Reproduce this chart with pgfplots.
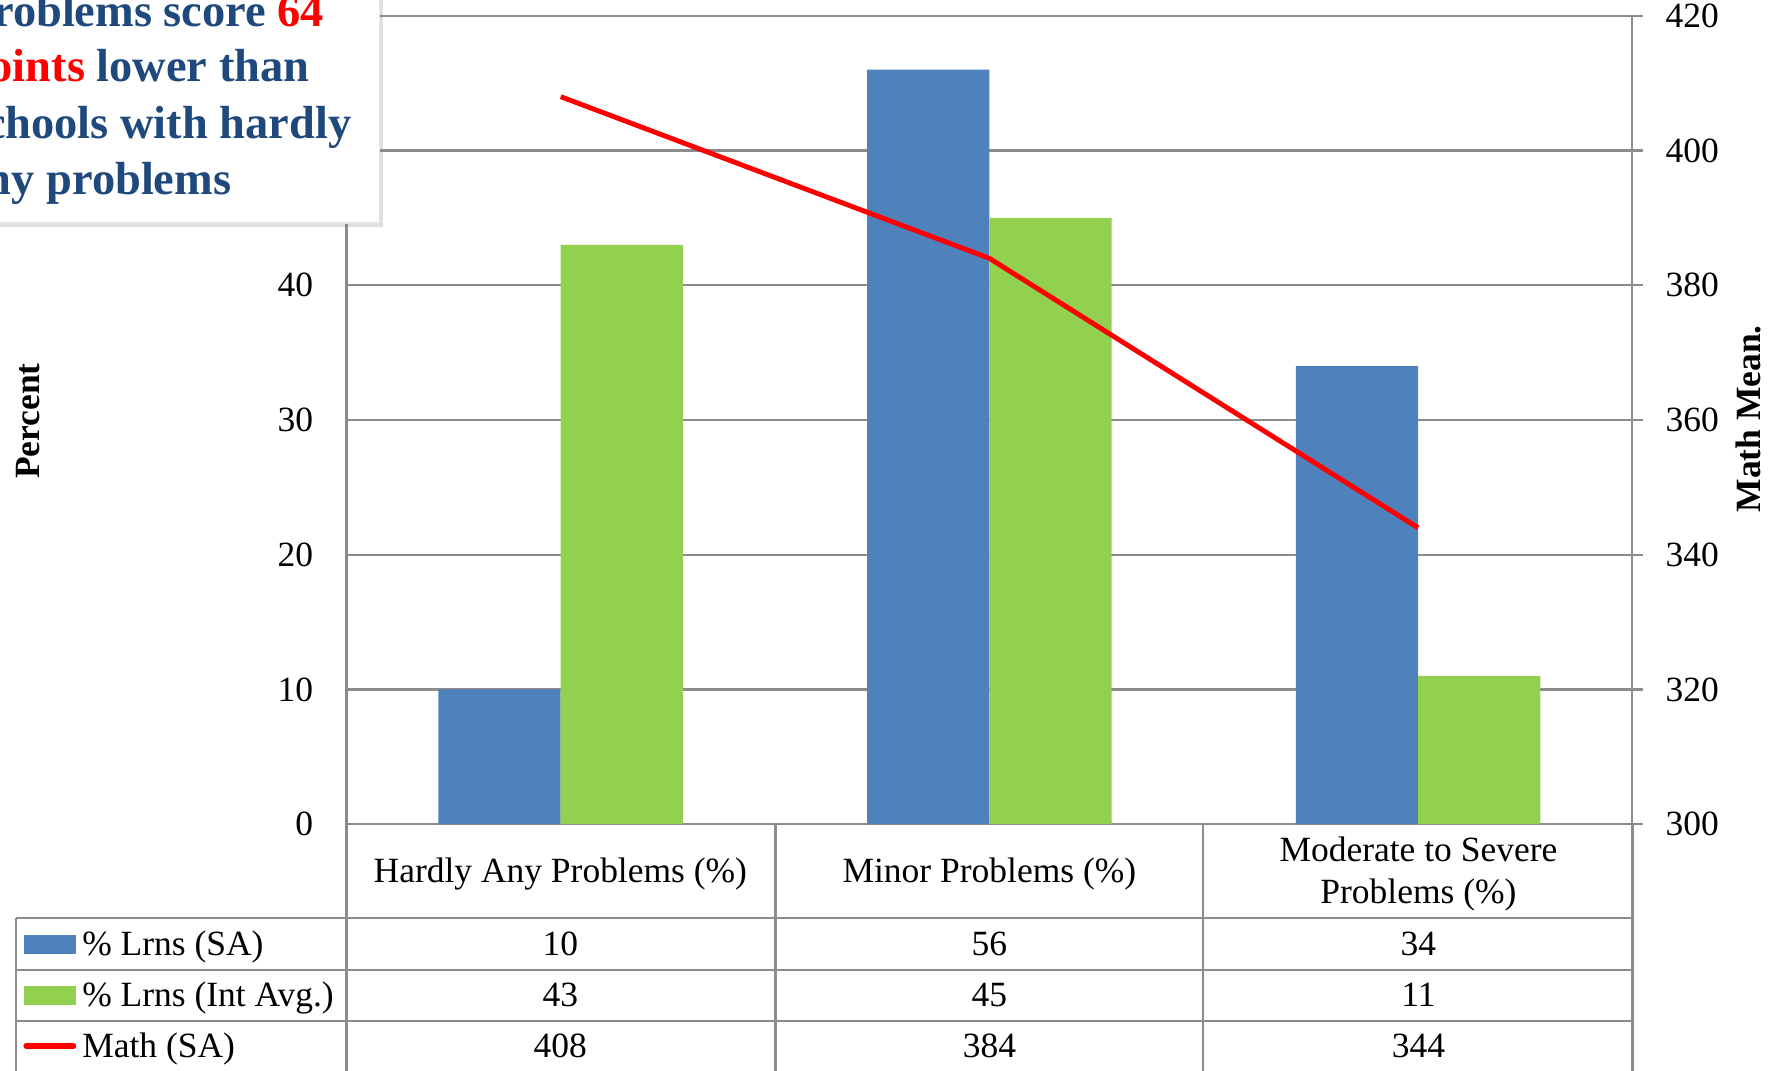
\documentclass[border=0pt]{standalone}
\usepackage{fontspec}
\setmainfont{Liberation Serif}
\usepackage{pgfplots}
\usepackage{pgfplotstable}
\pgfplotsset{compat=1.18}
\usetikzlibrary{shadows}

\definecolor{sablue}{HTML}{4F81BD}
\definecolor{intgreen}{HTML}{92D050}
\definecolor{mathred}{HTML}{FF0000}
\definecolor{gridgray}{HTML}{8C8C8C}
\definecolor{calloutblue}{HTML}{1F497D}

\newcommand\fs{\fontsize{9.4pt}{11pt}\selectfont}
\newcommand\calloutfs{\fontsize{12.3pt}{15pt}\selectfont\bfseries}

% x: category index, sa / int: share of learners (%), math: mean maths score
\pgfplotstableread{
x sa int math
0 10 43 408
1 56 45 384
2 34 11 344
}\schooldata

\begin{document}
\begin{tikzpicture}[font=\fs]

% bars: percentages on the left axis
\begin{axis}[
  at={(91.8pt,-218.4pt)}, anchor=south west,
  scale only axis, width=340.8pt, height=214.2pt,
  xmin=-0.5, xmax=2.5, ymin=0, ymax=60,
  ytick={0,10,...,60}, xtick=\empty,
  % the upper labels sit under the callout box
  yticklabel={\ifdim\tick pt>45pt\else\pgfmathprintnumber{\tick}\fi},
  axis x line*=bottom, axis y line*=left,
  axis line style={gridgray, line width=0.6pt},
  ymajorgrids, grid style={gridgray, line width=0.6pt},
  major tick length=0pt,
  yticklabel style={font=\fs, xshift=-5.3pt},
  /pgf/number format/assume math mode=true,
  ybar=0pt, bar width=32.4pt,
]
\addplot[fill=sablue, draw=none] table[x=x,y=sa]{\schooldata};
\addplot[fill=intgreen, draw=none] table[x=x,y=int]{\schooldata};
\end{axis}

% line: maths mean on the right axis
\begin{axis}[
  at={(91.8pt,-218.4pt)}, anchor=south west,
  scale only axis, width=340.8pt, height=214.2pt,
  xmin=-0.5, xmax=2.5, ymin=300, ymax=420,
  ytick={300,320,...,420}, xtick=\empty,
  axis y line*=right, axis x line=none,
  axis line style={gridgray, line width=0.6pt},
  tick style={gridgray, line width=0.6pt},
  tick align=outside, major tick length=2.7pt,
  yticklabel style={font=\fs, xshift=2.6pt},
  /pgf/number format/assume math mode=true,
]
\addplot[mathred, line width=1.3pt, mark=none] table[x=x,y=math]{\schooldata};
\end{axis}

\begin{scope}[x=0.3pt, y=-0.3pt]
  % data table grid
  \draw[gridgray, line width=0.6pt]
    (306,728) -- (306,960) (685,728) -- (685,960)
    (1063,728) -- (1063,960) (1442,728) -- (1442,960)
    (14,811) -- (1442,811) (14,857) -- (1442,857)
    (14,902) -- (1442,902) (14,811) -- (14,960);
  % category headers
  \node[anchor=base, inner sep=0] at (495,780) {Hardly Any Problems (\%)};
  \node[anchor=base, inner sep=0] at (874,780) {Minor Problems (\%)};
  \node[anchor=base, inner sep=0] at (1253,761) {Moderate to Severe};
  \node[anchor=base, inner sep=0] at (1253,798) {Problems (\%)};
  % series keys and names
  \fill[sablue] (21,826) rectangle (67,843);
  \fill[intgreen] (21,871) rectangle (67,888);
  \draw[mathred, line width=1.4pt, line cap=round] (23,924) -- (65,924);
  \node[anchor=base west, inner sep=0] at (72,844) {\% Lrns (SA)};
  \node[anchor=base west, inner sep=0] at (72,889) {\% Lrns (Int Avg.)};
  \node[anchor=base west, inner sep=0] at (72,934) {Math (SA)};
  % table values
  \foreach \i in {0,1,2} {
    \pgfmathsetmacro{\xc}{495+379*\i}
    \pgfplotstablegetelem{\i}{sa}\of\schooldata
    \node[anchor=base, inner sep=0] at (\xc,844) {\pgfplotsretval};
    \pgfplotstablegetelem{\i}{int}\of\schooldata
    \node[anchor=base, inner sep=0] at (\xc,889) {\pgfplotsretval};
    \pgfplotstablegetelem{\i}{math}\of\schooldata
    \node[anchor=base, inner sep=0] at (\xc,934) {\pgfplotsretval};
  }
  % axis titles
  \node[rotate=90, anchor=base, inner sep=0, font=\fs\bfseries] at (35,372) {Percent};
  \node[rotate=90, anchor=base, inner sep=0, font=\fs\bfseries] at (1555,370) {Math Mean.};
  % callout
  \fill[white, draw=gray!20, line width=0.3pt,
        drop shadow={shadow xshift=1.0pt, shadow yshift=-1.0pt, opacity=0.25}]
    (-40,-40) rectangle (335,197);
  \begin{scope}[every node/.style={inner sep=0, anchor=base east, font=\calloutfs, text=calloutblue}]
    \node at (287,23) {problems score \textcolor{mathred}{64}};
    \node at (274,72) {\textcolor{mathred}{points} lower than};
    \node at (311,122) {schools with hardly};
    \node at (205,172) {any problems};
  \end{scope}
  \pgfresetboundingbox
  \path[use as bounding box] (0,0) rectangle (1568,946);
\end{scope}
\end{tikzpicture}
\end{document}
